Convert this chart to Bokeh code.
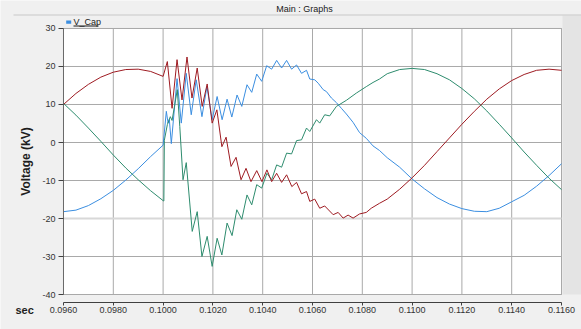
from bokeh.plotting import figure
from bokeh.models import Range1d, FixedTicker, Label, BoxAnnotation, Span
from bokeh.embed import file_html
from bokeh.resources import INLINE

# ---- data ----
x_ticks = [0.096, 0.098, 0.100, 0.102, 0.104, 0.106, 0.108, 0.110, 0.112, 0.114, 0.116]
x_tick_labels = ["0.0960", "0.0980", "0.1000", "0.1020", "0.1040", "0.1060",
                 "0.1080", "0.1100", "0.1120", "0.1140", "0.1160"]
y_ticks = [-40, -30, -20, -10, 0, 10, 20, 30]
y_tick_labels = ["-40", "-30", "-20", "-10", "0", "10", "20", "30"]

t_red = [0.0960, 0.0965, 0.0970, 0.0975, 0.0980, 0.0985, 0.0990, 0.0995, 0.1000,
         0.10017, 0.10036, 0.10056, 0.10076, 0.10096, 0.10116, 0.10137, 0.10157, 0.10177,
         0.10197, 0.10216, 0.10236, 0.10253, 0.10273, 0.10293, 0.10313, 0.10333, 0.10353,
         0.10376, 0.10397, 0.10417, 0.10436, 0.10456, 0.10476, 0.10496, 0.10517, 0.10536,
         0.10556, 0.10576, 0.10589, 0.10609, 0.10629, 0.10649, 0.10683, 0.10703, 0.10723,
         0.10743, 0.10763, 0.10789, 0.10816, 0.10836, 0.10869,
         0.1090, 0.1095, 0.1100, 0.1105, 0.1110, 0.1115, 0.1120, 0.1125, 0.1130, 0.1135,
         0.1140, 0.1145, 0.1150, 0.1155, 0.1160]
v_red = [10.0, 12.9, 15.3, 17.2, 18.5, 19.2, 19.3, 18.7, 17.4,
         21.3, 9.0, 21.8, 11.2, 22.5, 11.7, 19.6, 9.5, 15.4,
         5.1, 8.6, -1.1, 1.4, -6.3, -3.9, -9.8, -6.8, -10.3,
         -7.4, -10.3, -7.2, -10.3, -8.1, -10.5, -8.5, -11.6, -10.5,
         -13.5, -12.9, -15.5, -14.9, -17.3, -16.7, -19.0, -18.4, -19.9,
         -19.1, -19.9, -18.8, -18.4, -17.3, -16.0,
         -14.9, -12.3, -9.3, -6.0, -2.4, 1.2, 4.8, 8.2, 11.4, 14.1,
         16.3, 17.9, 19.0, 19.3, 19.0]

t_green = [0.0960, 0.0965, 0.0970, 0.0975, 0.0980, 0.0985, 0.0990, 0.0995, 0.1000, 0.10003,
           0.10005, 0.10017, 0.10029, 0.10036, 0.10057, 0.10067, 0.10080, 0.10093, 0.10117,
           0.10137, 0.10156, 0.10177, 0.10197, 0.10217, 0.10236, 0.10257, 0.10277, 0.10296,
           0.10316, 0.10337, 0.10356, 0.10376, 0.10396, 0.10417, 0.10436, 0.10456, 0.10476,
           0.10496, 0.10516, 0.10536, 0.10556, 0.10576, 0.10589, 0.10616, 0.10629, 0.10649,
           0.10669, 0.10696, 0.10736, 0.10776, 0.10816, 0.10843, 0.10869,
           0.1090, 0.1095, 0.1100, 0.1105, 0.1110, 0.1115, 0.1120, 0.1125, 0.1130, 0.1135,
           0.1140, 0.1145, 0.1150, 0.1155, 0.1160]
v_green = [10.3, 7.2, 3.8, 0.3, -3.3, -6.7, -9.8, -12.7, -15.3, -15.4,
           0.6, 4.7, 6.8, 5.8, 13.9, 4.2, -9.8, -5.3, -23.4,
           -18.2, -30.0, -24.7, -32.6, -25.2, -29.6, -21.2, -24.5, -17.7,
           -20.2, -13.8, -16.4, -11.1, -12.0, -8.1, -9.8, -5.9, -6.5,
           -2.8, -3.0, 0.5, 0.7, 3.8, 2.9, 6.0, 5.1, 7.3,
           7.0, 9.5, 11.1, 13.0, 14.7, 15.8, 16.7,
           18.1, 19.2, 19.5, 19.2, 18.1, 16.5, 14.2, 11.5, 8.3, 4.8,
           1.2, -2.5, -6.0, -9.4, -12.4]

t_blue = [0.0960, 0.0965, 0.0970, 0.0975, 0.0980, 0.0985, 0.0990, 0.0995, 0.1000,
          0.10013, 0.10020, 0.10025, 0.10033, 0.10056, 0.10073, 0.10093, 0.10113, 0.10133,
          0.10156, 0.10176, 0.10197, 0.10217, 0.10237, 0.10257, 0.10276, 0.10297, 0.10316,
          0.10337, 0.10356, 0.10376, 0.10396, 0.10416, 0.10436, 0.10456, 0.10476, 0.10496,
          0.10516, 0.10536, 0.10556, 0.10576, 0.10589, 0.10609, 0.10623, 0.10643, 0.10656,
          0.10676, 0.10696, 0.10716, 0.10736, 0.10763, 0.10789, 0.10816, 0.10843, 0.10869,
          0.1090, 0.1095, 0.1100, 0.1105, 0.1110, 0.1115, 0.1120, 0.1125, 0.1130, 0.1135,
          0.1140, 0.1145, 0.1150, 0.1155, 0.1160]
v_blue = [-18.2, -17.8, -16.6, -14.8, -12.6, -9.9, -6.9, -3.7, -0.7,
          8.2, 5.1, 6.1, -0.3, 16.8, 5.1, 18.2, 7.3, 16.5,
          6.8, 14.7, 6.0, 12.1, 6.0, 11.4, 6.7, 12.5, 9.5,
          15.2, 13.2, 18.0, 16.1, 20.2, 19.3, 21.6, 19.6, 21.6,
          19.3, 20.4, 18.2, 19.0, 16.7, 16.5, 15.6, 13.9, 13.4,
          11.7, 10.5, 9.0, 7.5, 5.3, 2.6, 1.1, -0.9, -2.1,
          -4.0, -6.5, -9.6, -12.2, -14.5, -16.2, -17.4, -18.1, -18.2, -17.3,
          -15.6, -13.9, -11.5, -8.7, -5.6]

title_text = "Main : Graphs"
legend_text = "V_Cap"
x_label_text = "sec"
y_label_text = "Voltage (kV)"

RED = "#9e1b22"
GREEN = "#2e8c6e"
BLUE = "#3b8ee0"
FONT = "Liberation Sans"
GRID = "#a9a9a9"

W, H = 581, 329
x_lo, x_hi = x_ticks[0], x_ticks[-1]
y_lo, y_hi = y_ticks[0], y_ticks[-1]

# frame covers the whole canvas; the chart area sits inside it
p = figure(width=W, height=H, output_backend="svg", toolbar_location=None,
           x_range=Range1d(0.09346988, 0.11680321), y_range=Range1d(-49.2105, 37.3684),
           min_border_left=0, min_border_right=0, min_border_top=0, min_border_bottom=0)
p.background_fill_color = "#f0f0f0"
p.border_fill_color = "#f0f0f0"
p.outline_line_color = None
p.xgrid.visible = False
p.ygrid.visible = False

# white chart area with border
p.quad(left=[x_lo], right=[x_hi], bottom=[y_lo], top=[y_hi],
       fill_color="white", line_color="#a0a0a0", line_width=1)
# grid lines
p.segment(x0=x_ticks, y0=[y_lo] * len(x_ticks), x1=x_ticks, y1=[y_hi] * len(x_ticks),
          line_color=GRID, line_width=1)
p.segment(x0=[x_lo] * len(y_ticks), y0=y_ticks, x1=[x_hi] * len(y_ticks), y1=y_ticks,
          line_color=GRID, line_width=1)
p.segment(x0=[x_lo], y0=[y_ticks[2]], x1=[x_hi], y1=[y_ticks[2]],
          line_color="#d8d8d8", line_width=2)

# traces
p.line(t_blue, v_blue, line_color=BLUE, line_width=1)
p.line(t_green, v_green, line_color=GREEN, line_width=1)
p.line(t_red, v_red, line_color=RED, line_width=1)

# axes (fixed inside the frame)
xa = p.xaxis[0]
xa.fixed_location = -42.1
xa.bounds = (x_lo, x_hi)
xa.ticker = FixedTicker(ticks=x_ticks)
xa.major_label_overrides = dict(zip(x_ticks, x_tick_labels))
xa.major_tick_out = 3
xa.major_tick_in = 0
xa.minor_tick_line_color = None
xa.axis_line_color = "#404040"
xa.major_tick_line_color = "#404040"
xa.major_label_text_font = FONT
xa.major_label_text_font_size = "9px"
xa.major_label_text_color = "#333333"
xa.major_label_standoff = 2

ya = p.yaxis[0]
ya.fixed_location = x_lo
ya.bounds = (y_lo, y_hi)
ya.ticker = FixedTicker(ticks=y_ticks)
ya.major_label_overrides = dict(zip(y_ticks, y_tick_labels))
ya.major_tick_out = 5
ya.major_tick_in = 0
ya.minor_tick_line_color = None
ya.axis_line_color = "#6a6a6a"
ya.major_tick_line_color = "#404040"
ya.major_label_text_font = FONT
ya.major_label_text_font_size = "9px"
ya.major_label_text_color = "#333333"
ya.major_label_standoff = 3
ya.axis_label = y_label_text
ya.axis_label_text_font = FONT
ya.axis_label_text_font_style = "bold"
ya.axis_label_text_font_size = "12px"
ya.axis_label_text_color = "#1e1e1e"
ya.axis_label_standoff = 6


def sbox(left, right, bottom, top, color):
    return BoxAnnotation(left=left, right=right, bottom=bottom, top=top,
                         left_units="screen", right_units="screen",
                         bottom_units="screen", top_units="screen",
                         fill_color=color, fill_alpha=1, line_alpha=0)


# right side darker strip, title separator
p.add_layout(sbox(562, 581, 35, 314, "#e4e4e4"))
p.add_layout(sbox(13, 581, 314, 315, "#c8c8c8"))
# title
p.add_layout(Label(x=304, y=321, x_units="screen", y_units="screen", text=title_text,
                   text_align="center", text_baseline="middle", text_font=FONT,
                   text_font_size="9px", text_color="#202020"))
# legend
p.add_layout(sbox(65.7, 70.7, 305.7, 309, BLUE))
p.add_layout(Label(x=73, y=307.5, x_units="screen", y_units="screen", text=legend_text,
                   text_align="left", text_baseline="middle", text_font=FONT,
                   text_font_size="9px", text_color="#1a1a1a"))
p.add_layout(sbox(73, 98, 303, 304, "#1a1a1a"))
# x axis label
p.add_layout(Label(x=15, y=20, x_units="screen", y_units="screen", text=x_label_text,
                   text_align="left", text_baseline="middle", text_font=FONT,
                   text_font_size="11px", text_font_style="bold", text_color="#1e1e1e"))

open("out.html", "w").write(file_html(p, INLINE))
